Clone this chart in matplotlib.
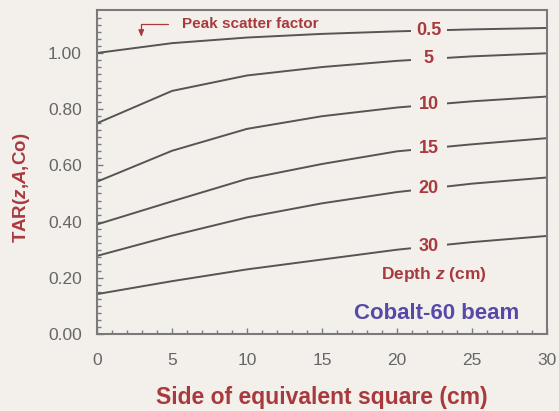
import numpy as np
import matplotlib
matplotlib.use("Agg")
import matplotlib.pyplot as plt
from matplotlib.patches import Rectangle

# ---- data ----
field_sizes = [0, 5, 10, 15, 20, 25, 30]
depth_labels = ["0.5", "5", "10", "15", "20", "30"]
tar_d05 = [1.000, 1.035, 1.055, 1.068, 1.077, 1.084, 1.089]
tar_d5  = [0.750, 0.865, 0.920, 0.950, 0.972, 0.988, 0.999]
tar_d10 = [0.542, 0.652, 0.730, 0.775, 0.806, 0.828, 0.845]
tar_d15 = [0.390, 0.472, 0.552, 0.605, 0.650, 0.675, 0.697]
tar_d20 = [0.278, 0.350, 0.415, 0.465, 0.505, 0.535, 0.557]
tar_d30 = [0.142, 0.188, 0.230, 0.265, 0.300, 0.327, 0.349]
series = [tar_d05, tar_d5, tar_d10, tar_d15, tar_d20, tar_d30]
x_ticks = [0, 5, 10, 15, 20, 25, 30]
y_ticks = [0.0, 0.2, 0.4, 0.6, 0.8, 1.0]

# ---- style ----
plt.rcParams['font.family'] = ['Liberation Sans', 'DejaVu Sans']
plt.rcParams['mathtext.fontset'] = 'custom'
plt.rcParams['mathtext.rm'] = 'Liberation Sans:bold'
plt.rcParams['mathtext.it'] = 'Liberation Sans:italic:bold'
plt.rcParams['mathtext.bf'] = 'Liberation Sans:bold'

BG = '#f3f0ec'
RED = '#a83a3e'
BLUE = '#5848a8'
LINE = '#555555'
AX = '#7a7a7a'

fig = plt.figure(figsize=(5.59, 4.11), dpi=100, facecolor=BG)
ax = fig.add_axes([97/559, 1-334/411, 450/559, 324/411], facecolor=BG)

for vals in series:
    ax.plot(field_sizes, vals, color=LINE, lw=1.4, zorder=2)

ax.set_xlim(0, 30)
ax.set_ylim(0, 1.153)
ax.set_xticks(x_ticks)
ax.set_yticks(y_ticks)
ax.set_yticklabels([f"{v:.2f}" for v in y_ticks])
ax.set_xticks(np.arange(0, 31, 1), minor=True)
ax.set_yticks(np.arange(0, 1.15, 0.025), minor=True)
ax.tick_params(which='both', direction='in', color=AX, width=1.0,
               labelcolor='#666666', labelsize=12.5)
ax.tick_params(which='major', length=4)
ax.tick_params(which='minor', length=3)
ax.tick_params(axis='x', which='both', pad=14)
ax.tick_params(axis='y', which='both', pad=11)
for sp in ax.spines.values():
    sp.set_color(AX)
    sp.set_linewidth(1.5)

# depth labels at x = 22, breaking the lines
lab_x = 22.1
gap_w, gap_h = 2.4, 0.05
for lab, vals in zip(depth_labels, series):
    yv = np.interp(lab_x, field_sizes, vals)
    ax.add_patch(Rectangle((lab_x - gap_w/2, yv - gap_h/2), gap_w, gap_h,
                           fc=BG, ec='none', zorder=3))
    ax.text(lab_x, yv, lab, ha='center', va='center', fontsize=13,
            fontweight='bold', color=RED, zorder=4)

ax.text((434-97)/15, (334-275)/281, "Depth $\\it{z}$ (cm)", ha='center',
        va='center', fontsize=12.5, fontweight='bold', color=RED)
ax.text((437-97)/15, (334-314)/281, "Cobalt-60 beam", ha='center', va='center',
        fontsize=16, fontweight='bold', color=BLUE)

ax.annotate("Peak scatter factor", xy=(2.95, 1.058), xytext=(5.65, 1.104),
            ha='left', va='center', fontsize=11, fontweight='bold', color=RED,
            arrowprops=dict(arrowstyle='-|>,head_length=0.35,head_width=0.15',
                            connectionstyle='angle,angleA=180,angleB=90,rad=0',
                            color=RED, lw=0.9, relpos=(0, 0.5),
                            shrinkA=8, shrinkB=0))

fig.text(322/559, 1-397/411, "Side of equivalent square (cm)", ha='center',
         va='center', fontsize=16.5, fontweight='bold', color=RED)
fig.text(22/559, 1-188/411, "TAR($\\it{z}$,$\\it{A}$,Co)", ha='center',
         va='center', rotation=90, fontsize=13.5, fontweight='bold', color=RED)

fig.savefig("out.png", dpi=100, facecolor=BG)
